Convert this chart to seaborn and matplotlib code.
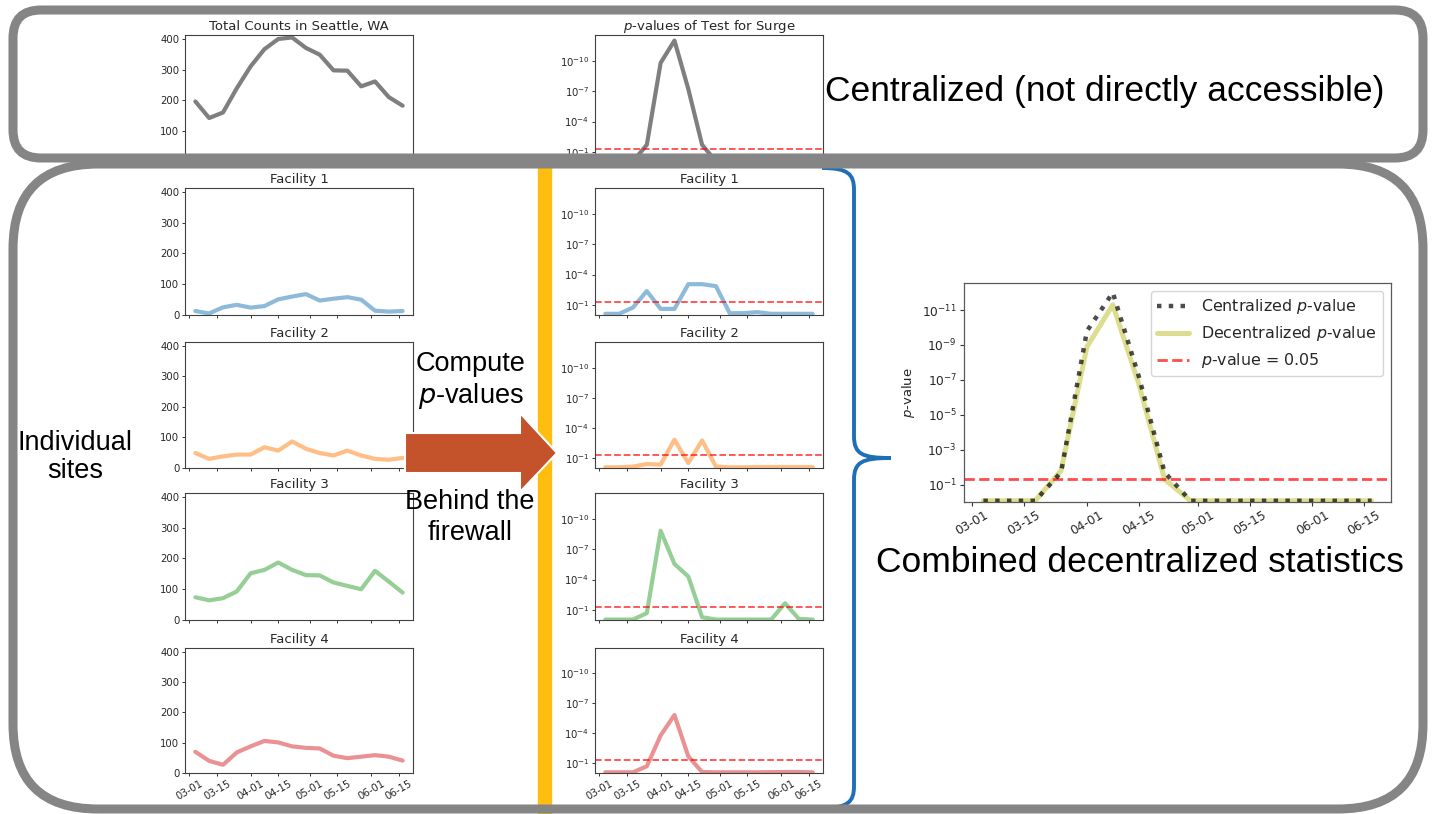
import pandas as pd
import seaborn as sns
import matplotlib.pyplot as plt
import matplotlib.dates as mdates
import matplotlib.transforms as mtransforms
from matplotlib.patches import FancyBboxPatch, Rectangle, Polygon, PathPatch
from matplotlib.path import Path
from matplotlib.ticker import NullLocator

# weekly data
dates = pd.date_range("2020-03-04", periods=16, freq="7D")

total_counts = [197, 143, 161, 240, 311, 367, 400, 405, 371, 349, 298, 297, 246, 262, 211, 183]
fac1_counts = [13, 5, 25, 33, 24, 29, 51, 60, 68, 47, 53, 58, 50, 14, 11, 13]
fac2_counts = [49, 30, 38, 44, 44, 68, 57, 87, 63, 49, 41, 57, 41, 30, 27, 33]
fac3_counts = [74, 64, 71, 93, 152, 163, 187, 163, 146, 145, 122, 111, 100, 160, 125, 89]
fac4_counts = [70, 40, 27, 68, 88, 106, 101, 88, 83, 81, 57, 49, 54, 59, 54, 41]

central_p = [0.85, 0.85, 0.85, 0.02, 1.6e-10, 1e-12, 6e-8, 0.02,
             0.85, 0.85, 0.85, 0.85, 0.85, 0.85, 0.85, 0.85]
decentral_p = [0.85, 0.85, 0.85, 0.016, 1.3e-9, 5e-12, 1.6e-7, 0.05,
               0.85, 0.85, 0.85, 0.85, 0.85, 0.85, 0.85, 0.85]
fac1_p = [0.76, 0.76, 0.18, 4.3e-3, 0.25, 0.25, 9e-4, 9e-4,
          1.4e-3, 0.66, 0.66, 0.52, 0.76, 0.76, 0.76, 0.76]
fac2_p = [0.85, 0.85, 0.72, 0.4, 0.46, 1.5e-3, 0.32, 1.8e-3,
          0.72, 0.85, 0.85, 0.8, 0.8, 0.8, 0.8, 0.8]
fac3_p = [0.9, 0.9, 0.9, 0.21, 1.5e-9, 2.9e-6, 5e-5, 0.53,
          0.9, 0.9, 0.9, 0.9, 0.9, 0.022, 0.78, 0.9]
fac4_p = [0.85, 0.85, 0.85, 0.21, 1.7e-4, 1.5e-6, 0.021, 0.8,
          0.85, 0.85, 0.85, 0.85, 0.82, 0.8, 0.8, 0.85]

facility_names = ["Facility 1", "Facility 2", "Facility 3", "Facility 4"]
facility_colors = ["tab:blue", "tab:orange", "tab:green", "tab:red"]
facility_counts = [fac1_counts, fac2_counts, fac3_counts, fac4_counts]
facility_p = [fac1_p, fac2_p, fac3_p, fac4_p]

sns.set_style("ticks")
plt.rcParams["font.family"] = ["DejaVu Sans"]

W, H = 1434, 814
fig = plt.figure(figsize=(W / 100, H / 100), dpi=100)
# pixel coords, origin top-left
pix = mtransforms.Affine2D().scale(1 / W, -1 / H).translate(0, 1) + fig.transFigure


def px_axes(x0, y0, x1, y1):
    return fig.add_axes([x0 / W, 1 - y1 / H, (x1 - x0) / W, (y1 - y0) / H])


def style_dates(ax, show, size=7.3):
    ax.xaxis.set_major_locator(mdates.DayLocator(bymonthday=[1, 15]))
    ax.xaxis.set_major_formatter(mdates.DateFormatter("%m-%d"))
    ax.tick_params(axis="x", labelbottom=show, labelrotation=30, labelsize=size)
    ax.set_xlabel("")


def style_small(ax):
    ax.tick_params(length=2.5, width=0.7, pad=1.5, labelsize=7.3, color=".2")
    for s in ax.spines.values():
        s.set_linewidth(0.8)
        s.set_color(".25")


def style_p(ax, ticks):
    ax.set_yscale("log")
    ax.set_ylim(1.0, 10 ** -12.55)
    ax.set_yticks(ticks)
    ax.yaxis.set_minor_locator(NullLocator())
    ax.set_ylabel("")


rows = [(35, 162), (188, 315), (342, 468), (493, 620), (648, 773)]

# left column: counts
ax = px_axes(185, rows[0][0], 413, rows[0][1])
sns.lineplot(x=dates, y=total_counts, ax=ax, color="k", alpha=0.5, linewidth=3)
ax.set_title("Total Counts in Seattle, WA", fontsize=9.5, pad=3.5)
for i in range(4):
    ax = px_axes(185, rows[i + 1][0], 413, rows[i + 1][1])
    sns.lineplot(x=dates, y=facility_counts[i], ax=ax, color=facility_colors[i],
                 alpha=0.5, linewidth=3)
    ax.set_title(facility_names[i], fontsize=9.5, pad=3.5)
for ax in fig.axes:
    ax.set_ylim(0, 413)
    ax.set_yticks([0, 100, 200, 300, 400])
    style_small(ax)
    style_dates(ax, ax is fig.axes[-1])

# middle column: p-values
n_left = len(fig.axes)
ax = px_axes(595, rows[0][0], 823, rows[0][1])
sns.lineplot(x=dates, y=central_p, ax=ax, color="k", alpha=0.5, linewidth=3)
ax.set_title("$p$-values of Test for Surge", fontsize=9.5, pad=3.5)
for i in range(4):
    ax = px_axes(595, rows[i + 1][0], 823, rows[i + 1][1])
    sns.lineplot(x=dates, y=facility_p[i], ax=ax, color=facility_colors[i],
                 alpha=0.5, linewidth=3)
    ax.set_title(facility_names[i], fontsize=9.5, pad=3.5)
mid_axes = fig.axes[n_left:]
for ax in mid_axes:
    ax.axhline(0.05, color="r", ls="--", alpha=0.7, lw=1.3)
    style_p(ax, [1e-1, 1e-4, 1e-7, 1e-10])
    style_small(ax)
    style_dates(ax, ax is mid_axes[-1])

# right: combined
ax = px_axes(964, 283, 1391, 502)
sns.lineplot(x=dates, y=central_p, ax=ax, color="k", alpha=0.7, linewidth=3.2,
             linestyle=":", label="Centralized $p$-value", zorder=3)
sns.lineplot(x=dates, y=decentral_p, ax=ax, color="tab:olive", alpha=0.5,
             linewidth=3.6, label="Decentralized $p$-value", zorder=2)
ax.axhline(0.05, color="r", ls="--", alpha=0.7, lw=2, label="$p$-value = 0.05")
style_p(ax, [1e-1, 1e-3, 1e-5, 1e-7, 1e-9, 1e-11])
ax.set_ylabel("$p$-value", fontsize=9.5, labelpad=4)
ax.tick_params(length=3, width=0.8, pad=2, labelsize=8.8, color=".2")
for s in ax.spines.values():
    s.set_linewidth(0.9)
    s.set_color(".35")
style_dates(ax, True, size=8.8)
ax.legend(loc="upper right", fontsize=11.4, handlelength=2.0)

# decorations
gray = "#858585"
for (x0, y0, x1, y1, r) in [(13, 10, 1423, 158, 28), (13, 164, 1423, 809, 85)]:
    box = FancyBboxPatch((x0, y0), x1 - x0, y1 - y0,
                         boxstyle=f"round,pad=0,rounding_size={r}",
                         transform=pix, fill=False, ec=gray, lw=6.5, zorder=5)
    fig.add_artist(box)

fig.add_artist(Rectangle((538, 166), 13, 660, transform=pix, color="#FFBE0F", zorder=2))

arrow = Polygon([(405, 433), (520, 433), (520, 413), (557, 453), (520, 492),
                 (520, 473), (405, 473)], closed=True, transform=pix,
                fc="#C4522A", ec="white", lw=1.5, zorder=4)
fig.add_artist(arrow)

x0, xm, xt, ya, yb, yc, r = 822, 854, 891, 168, 808, 458, 22
verts = [(x0, ya), (xm - 6, ya), (xm, ya + 6), (xm, ya + r),
         (xm, yc - r),
         (xm, yc - 4), (xm + 8, yc), (xt, yc),
         (xm + 8, yc), (xm, yc + 4), (xm, yc + r),
         (xm, yb - r),
         (xm, yb - 6), (xm - 6, yb), (x0, yb)]
codes = [Path.MOVETO, Path.CURVE4, Path.CURVE4, Path.CURVE4, Path.LINETO,
         Path.CURVE4, Path.CURVE4, Path.CURVE4,
         Path.CURVE4, Path.CURVE4, Path.CURVE4, Path.LINETO,
         Path.CURVE4, Path.CURVE4, Path.CURVE4]
fig.add_artist(PathPatch(Path(verts, codes), transform=pix, fill=False,
                         ec="#1F6FB7", lw=2.8, zorder=4))

tf = dict(transform=pix, family="Liberation Sans", color="black")
fig.text(825, 92, "Centralized (not directly accessible)", fontsize=25.5,
         ha="left", va="center", **tf)
fig.text(1140, 563, "Combined decentralized statistics", fontsize=25.5,
         ha="center", va="center", **tf)
fig.text(75, 457, "Individual\nsites", fontsize=19.5, ha="center", va="center",
         linespacing=1.15, **tf)
fig.text(471, 364, "Compute", fontsize=19.5, ha="center", va="center", **tf)
fig.text(471, 396, "$p$-values", fontsize=19.5, ha="center", va="center", **tf)
fig.text(470, 502, "Behind the", fontsize=19.5, ha="center", va="center", **tf)
fig.text(470, 533, "firewall", fontsize=19.5, ha="center", va="center", **tf)

fig.savefig("out.png", dpi=100)
